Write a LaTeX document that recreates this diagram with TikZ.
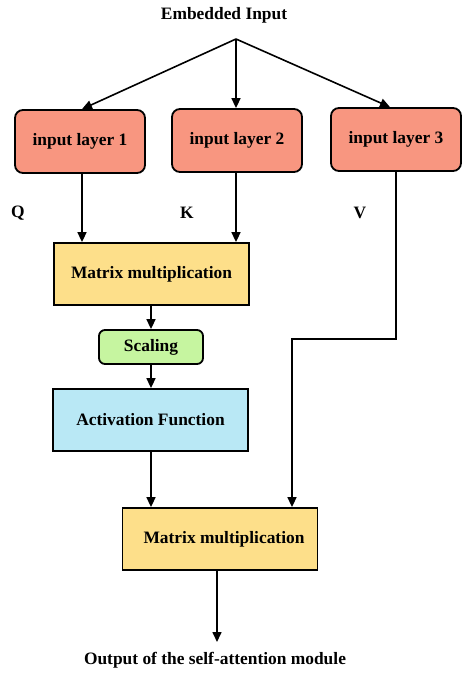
\documentclass[tikz,border=0pt]{standalone}
\usepackage{fontspec}
\setmainfont{Liberation Serif}
\usetikzlibrary{arrows.meta,calc}
\definecolor{salmon}{RGB}{248,150,128}
\definecolor{mmyellow}{RGB}{253,223,138}
\definecolor{scgreen}{RGB}{198,245,160}
\definecolor{actblue}{RGB}{185,232,245}
\tikzset{
  lbl/.style={font=\fontsize{17.4}{20}\selectfont\bfseries, inner sep=0pt},
  boxbase/.style={draw=black, line width=1.8pt, font=\fontsize{17.4}{20}\selectfont\bfseries, inner sep=0pt, anchor=center},
  inbox/.style={boxbase, fill=salmon, rounded corners=8pt, minimum width=130pt, minimum height=63pt},
  mmbox/.style={boxbase, fill=mmyellow, minimum width=195pt, minimum height=62pt},
  scbox/.style={boxbase, fill=scgreen, rounded corners=6pt, minimum width=104pt, minimum height=34pt},
  actbox/.style={boxbase, fill=actblue, minimum width=195pt, minimum height=62pt},
  arr/.style={line width=1.6pt, -{Triangle[length=10pt,width=9pt]}},
  ln/.style={line width=1.6pt}
}
\begin{document}
\begin{tikzpicture}[x=1pt,y=-1pt]
\useasboundingbox (0,0) rectangle (474,674);
\node[lbl] (emb) at (224,15) {Embedded Input};
\coordinate (fan) at (236,39);
\node[inbox] (in1) at (80,141.5) {input layer 1};
\node[inbox] (in2) at (237,140.5) {input layer 2};
\node[inbox] (in3) at (396,139.5) {input layer 3};
\node[lbl] (q) at (18,213) {Q};
\node[lbl] (k) at (187,213) {K};
\node[lbl] (v) at (360,213) {V};
\node[mmbox] (mm1) at (151.5,274) {Matrix multiplication};
\node[scbox] (sc) at (151,347) {Scaling};
\node[actbox] (act) at (150.5,420) {Activation Function};
\node[mmbox] (mm2) at (220,539) {\hspace{8pt}Matrix multiplication};
\node[lbl] (out) at (215,660) {Output of the self-attention module};
\coordinate (qx) at ($(in1.south)+(2,0)$);
\coordinate (vturn1) at (396,339);
\coordinate (vturn2) at (292,339);
\coordinate (outend) at (217,642);
% fan arrows
\draw[arr] (fan) -- ($(in1.north)+(2,0)$);
\draw[arr] (fan) -- (fan |- in2.north);
\draw[arr] (fan) -- ($(in3.north)+(-6,0)$);
% Q, K
\draw[arr] (qx) -- (qx |- mm1.north);
\draw[arr] (in2.south -| fan) -- (fan |- mm1.north);
% V path
\draw[arr] (in3.south) -- (vturn1) -- (vturn2) -- (vturn2 |- mm2.north);
% chain
\draw[arr] (mm1.south -| sc.north) -- (sc.north);
\draw[arr] (sc.south) -- (sc.south |- act.north);
\draw[arr] (act.south -| sc.south) -- (sc.south |- mm2.north);
\draw[arr] (mm2.south -| outend) -- (outend);
\end{tikzpicture}
\end{document}
